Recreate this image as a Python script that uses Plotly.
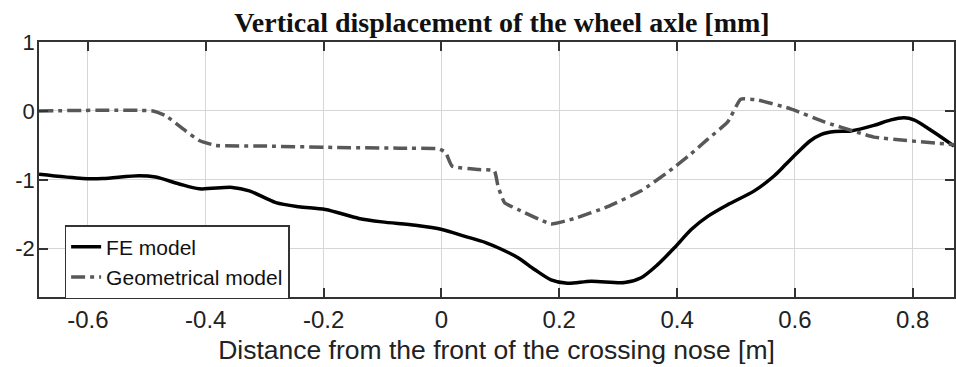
import plotly.graph_objects as go

# FE model: vertical displacement of the wheel axle [mm] vs distance [m]
fe_x = [-0.683, -0.609, -0.575, -0.513, -0.485, -0.445, -0.411, -0.355, -0.326,
        -0.281, -0.242, -0.197, -0.140, -0.101, -0.044, 0.001, 0.040, 0.075,
        0.100, 0.130, 0.158, 0.186, 0.214, 0.254, 0.311, 0.339, 0.367, 0.395,
        0.424, 0.452, 0.486, 0.531, 0.565, 0.585, 0.605, 0.625, 0.645, 0.668,
        0.695, 0.734, 0.763, 0.785, 0.802, 0.836, 0.870]
fe_y = [-0.92, -0.98, -0.98, -0.94, -0.96, -1.06, -1.13, -1.11, -1.16,
        -1.33, -1.39, -1.43, -1.56, -1.61, -1.66, -1.72, -1.82, -1.91,
        -2.00, -2.13, -2.30, -2.45, -2.50, -2.47, -2.49, -2.42, -2.23, -1.99,
        -1.72, -1.53, -1.36, -1.16, -0.94, -0.77, -0.60, -0.44, -0.34, -0.30,
        -0.29, -0.21, -0.13, -0.10, -0.13, -0.31, -0.51]

# Geometrical model
geo_x = [-0.683, -0.490, -0.468, -0.434, -0.411, -0.383, -0.298, -0.185, -0.072,
         -0.005, 0.007, 0.018, 0.063, 0.090, 0.096, 0.107, 0.130, 0.186, 0.226,
         0.282, 0.339, 0.384, 0.420, 0.452, 0.486, 0.508, 0.536, 0.593, 0.650,
         0.706, 0.734, 0.790, 0.870]
geo_y = [0.00, 0.00, -0.07, -0.29, -0.43, -0.50, -0.51, -0.53, -0.54,
         -0.55, -0.60, -0.80, -0.85, -0.87, -1.09, -1.33, -1.43, -1.64, -1.56,
         -1.39, -1.16, -0.89, -0.65, -0.41, -0.16, 0.17, 0.16, 0.03, -0.16,
         -0.31, -0.38, -0.43, -0.49]

x_ticks = [-0.6, -0.4, -0.2, 0, 0.2, 0.4, 0.6, 0.8]
x_tick_text = ["-0.6", "-0.4", "-0.2", "0", "0.2", "0.4", "0.6", "0.8"]
y_ticks = [-2, -1, 0, 1]
y_tick_text = ["-2", "-1", "0", "1"]

fig = go.Figure()
fig.add_trace(go.Scatter(
    x=fe_x, y=fe_y, mode="lines", name="FE model",
    line=dict(color="#000000", width=3.5, shape="spline", smoothing=0.8),
))
fig.add_trace(go.Scatter(
    x=geo_x, y=geo_y, mode="lines", name="Geometrical model",
    line=dict(color="#585858", width=3.5, dash="14px,5px,4px,5px",
              shape="spline", smoothing=0.4),
))

axis_common = dict(
    showline=True, linecolor="#333333", linewidth=1.5, mirror="ticks",
    ticks="inside", ticklen=9, tickwidth=1.5, tickcolor="#333333",
    showgrid=True, gridcolor="#d6d6d6", gridwidth=1, zeroline=False,
    tickfont=dict(family="Liberation Sans, Arial, sans-serif", size=24, color="#222222"),
)

fig.update_layout(
    width=956, height=367,
    margin=dict(l=39, r=0, t=42, b=70),
    paper_bgcolor="white", plot_bgcolor="white",
    title=dict(
        text="<b>Vertical displacement of the wheel axle [mm]</b>",
        font=dict(family="Liberation Serif, Times New Roman, serif", size=28, color="#111111"),
        x=0.525, xanchor="center", y=0.94, yanchor="middle",
    ),
    xaxis=dict(
        range=[-0.683, 0.87], tickvals=x_ticks, ticktext=x_tick_text,
        ticklabelstandoff=0,
        title=dict(text="Distance from the front of the crossing nose [m]",
                   font=dict(family="Liberation Sans, Arial, sans-serif", size=26.5, color="#222222"),
                   standoff=9),
        **axis_common,
    ),
    yaxis=dict(
        range=[-2.7, 1], tickvals=y_ticks, ticktext=y_tick_text,
        ticklabelstandoff=-2,
        tickfont=dict(family="Liberation Sans, Arial, sans-serif", size=22, color="#222222"),
        **{k: v for k, v in axis_common.items() if k != "tickfont"},
    ),
    legend=dict(
        x=0.028, y=0.282, xanchor="left", yanchor="top",
        bgcolor="white", bordercolor="#333333", borderwidth=1.5,
        font=dict(family="Liberation Sans, Arial, sans-serif", size=21, color="#111111"),
        tracegroupgap=0, itemwidth=30,
    ),
    showlegend=True,
)

fig.write_html("out.html")
